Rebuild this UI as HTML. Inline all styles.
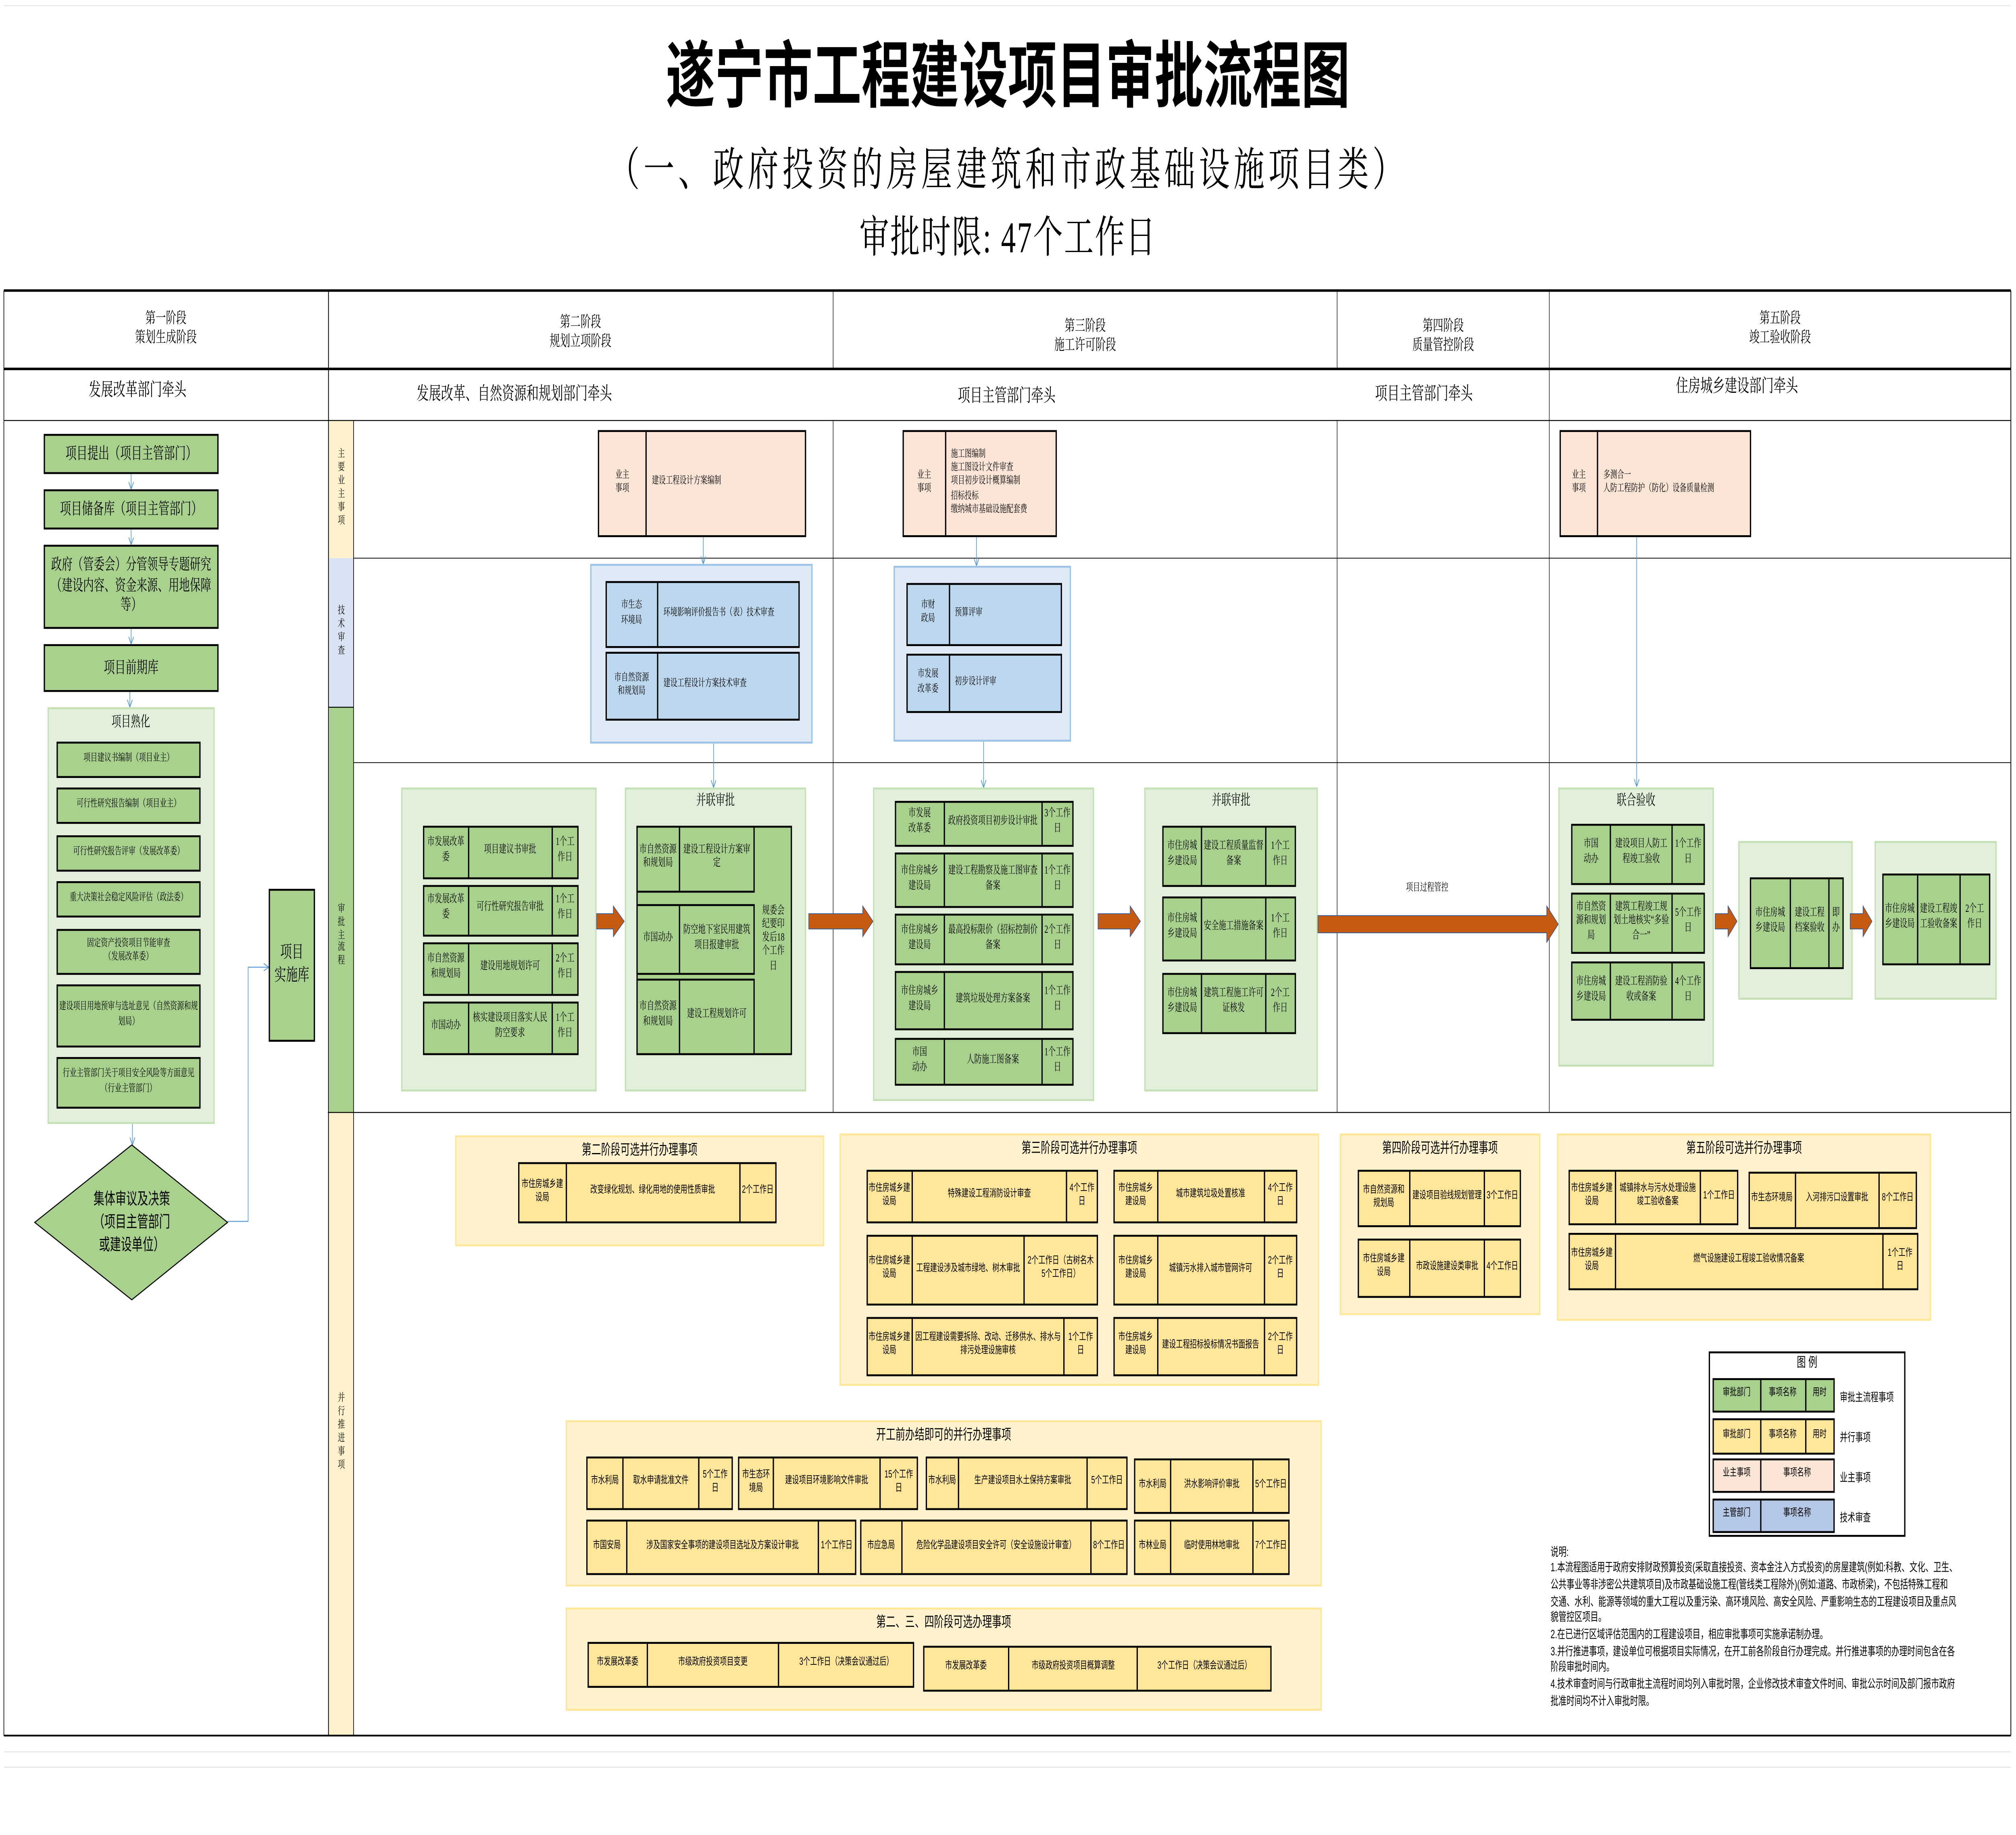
<!DOCTYPE html>
<html><head><meta charset="utf-8">
<style>
html,body{margin:0;padding:0;background:#fff;overflow:hidden;}
body{width:100%;height:100vh;position:relative;}
#w{position:absolute;left:0;top:0;width:1568px;height:960px;transform:scale(4.7398);transform-origin:0 0;font-family:"Liberation Serif","Noto Serif CJK SC",serif;color:#000;}
.a{position:absolute;}
.c{position:absolute;display:flex;align-items:center;justify-content:center;text-align:center;box-sizing:border-box;line-height:1.25;}
.b{position:absolute;display:flex;box-sizing:border-box;border:0.7px solid #000;}
.b>span{display:flex;align-items:center;justify-content:center;text-align:center;box-sizing:border-box;border-left:0.7px solid #000;height:100%;padding:0 1px;line-height:1.3;}
.b>span:first-child{border-left:none;}
.b>span:last-child{flex:1;}
.g{background:#A9D18E}.y{background:#FFE699}.p{background:#FBE5D6}.bl{background:#BDD7EE}.lb{background:#B4C7E7}
.gc{position:absolute;background:#E2EFDA;border:0.6px solid #C5E0B4;box-sizing:border-box;}
.bc{position:absolute;background:#DEEBF7;border:0.6px solid #9DC3E6;box-sizing:border-box;}
.yc{position:absolute;background:#FFF2CC;border:0.6px solid #FFE699;box-sizing:border-box;}
.f6{font-size:5.8px}.f55{font-size:5.4px}
.s{font-family:"Liberation Sans","Noto Sans CJK SC",sans-serif;}
.yb{border-width:0.9px;}
.ttl{position:absolute;text-align:center;font-family:"Liberation Sans","Noto Sans CJK SC",sans-serif;font-size:7.5px;}
.lf{justify-content:flex-start!important;text-align:left!important;padding-left:4px!important;}
</style></head><body><div id="w">

<!-- Titles -->
<div class="c" style="left:300px;top:20px;width:968px;height:44px;font-size:38px;font-weight:bold;font-family:'Liberation Sans','Noto Sans CJK SC',sans-serif;">遂宁市工程建设项目审批流程图</div>
<div class="c" style="left:300px;top:76px;width:968px;height:28px;font-size:24px;letter-spacing:3px;">（一、政府投资的房屋建筑和市政基础设施项目类）</div>
<div class="c" style="left:400px;top:111px;width:768px;height:28px;font-size:23px;letter-spacing:1px;">审批时限: 47个工作日</div>

<!-- Lane labels -->
<div class="c" style="left:256px;top:220px;width:19px;height:72px;background:#FFF2CC;font-size:5.5px;">主<br>要<br>业<br>主<br>事<br>项</div>
<div class="c" style="left:256px;top:292px;width:19px;height:78px;background:#DAE3F3;font-size:5.5px;">技<br>术<br>审<br>查</div>
<div class="c" style="left:256px;top:370px;width:19px;height:212px;background:#A9D18E;font-size:5.5px;padding-top:28px;">审<br>批<br>主<br>流<br>程</div>
<div class="c" style="left:256px;top:582px;width:19px;height:326px;background:#FFF2CC;font-size:5.5px;padding-top:10px;">并<br>行<br>推<br>进<br>事<br>项</div>

<!-- Table lines -->
<svg class="a" style="left:0;top:0" width="1568" height="960" viewBox="0 0 1568 960">
<g stroke="#000" fill="none">
<line x1="3" y1="152" x2="1564" y2="152" stroke-width="1.3"/>
<line x1="3" y1="193" x2="1564" y2="193" stroke-width="1.3"/>
<line x1="3" y1="220" x2="1564" y2="220" stroke-width="0.5"/>
<line x1="3" y1="908" x2="1564" y2="908" stroke-width="0.9"/>
<line x1="3" y1="152" x2="3" y2="908" stroke-width="0.5"/>
<line x1="1564" y1="152" x2="1564" y2="908" stroke-width="0.6"/>
<line x1="255.5" y1="152" x2="255.5" y2="908" stroke-width="0.6"/>
<line x1="275" y1="220" x2="275" y2="908" stroke-width="0.5"/>
<line x1="648" y1="152" x2="648" y2="193" stroke-width="0.4"/>
<line x1="648" y1="220" x2="648" y2="582" stroke-width="0.4"/>
<line x1="1040" y1="152" x2="1040" y2="193" stroke-width="0.4"/>
<line x1="1040" y1="220" x2="1040" y2="582" stroke-width="0.4"/>
<line x1="1205" y1="152" x2="1205" y2="582" stroke-width="0.4"/>
<line x1="275" y1="292" x2="1564" y2="292" stroke-width="0.4"/>
<line x1="275" y1="399" x2="1564" y2="399" stroke-width="0.4"/>
<line x1="255" y1="582" x2="1564" y2="582" stroke-width="0.5"/>
<line x1="255.5" y1="370" x2="275" y2="370" stroke-width="0.5"/>
</g>
<g stroke="#ddd" stroke-width="0.4">
<line x1="3" y1="916.5" x2="1564" y2="916.5"/><line x1="3" y1="924.5" x2="1564" y2="924.5"/>
<line x1="3" y1="3" x2="1564" y2="3"/>
</g>
</svg>

<!-- Header texts -->
<div class="c" style="left:3px;top:158px;width:252px;height:28px;font-size:8px;">第一阶段<br>策划生成阶段</div>
<div class="c" style="left:255px;top:160px;width:393px;height:28px;font-size:8px;">第二阶段<br>规划立项阶段</div>
<div class="c" style="left:648px;top:162px;width:392px;height:28px;font-size:8px;">第三阶段<br>施工许可阶段</div>
<div class="c" style="left:1040px;top:162px;width:165px;height:28px;font-size:8px;">第四阶段<br>质量管控阶段</div>
<div class="c" style="left:1205px;top:158px;width:359px;height:28px;font-size:8px;">第五阶段<br>竣工验收阶段</div>
<div class="c" style="left:3px;top:199px;width:208px;height:14px;font-size:9.5px;">发展改革部门牵头</div>
<div class="c" style="left:255px;top:201px;width:290px;height:14px;font-size:9.5px;">发展改革、自然资源和规划部门牵头</div>
<div class="c" style="left:648px;top:202px;width:270px;height:14px;font-size:9.5px;">项目主管部门牵头</div>
<div class="c" style="left:1040px;top:201px;width:135px;height:14px;font-size:9.5px;">项目主管部门牵头</div>
<div class="c" style="left:1205px;top:197px;width:292px;height:14px;font-size:9.5px;">住房城乡建设部门牵头</div>

<!-- Phase 1 -->
<div class="b g" style="left:34px;top:227px;width:136px;height:21px;font-size:8.5px;"><span>项目提出（项目主管部门）</span></div>
<div class="b g" style="left:34px;top:256px;width:136px;height:21px;font-size:8.5px;"><span>项目储备库（项目主管部门）</span></div>
<div class="b g" style="left:34px;top:285px;width:136px;height:44px;font-size:8.3px;"><span>政府（管委会）分管领导专题研究（建设内容、资金来源、用地保障等）</span></div>
<div class="b g" style="left:34px;top:337px;width:136px;height:25px;font-size:8.5px;"><span>项目前期库</span></div>
<div class="gc" style="left:36.5px;top:370px;width:130.5px;height:218px;"></div>
<div class="c" style="left:36.5px;top:372px;width:130.5px;height:11px;font-size:7.5px;">项目熟化</div>
<div class="b g f55" style="left:44px;top:388px;width:112px;height:19px;"><span>项目建议书编制（项目业主）</span></div>
<div class="b g f55" style="left:44px;top:412px;width:112px;height:19px;"><span>可行性研究报告编制（项目业主）</span></div>
<div class="b g f55" style="left:44px;top:437px;width:112px;height:19px;"><span>可行性研究报告评审（发展改革委）</span></div>
<div class="b g f55" style="left:44px;top:461px;width:112px;height:19px;"><span>重大决策社会稳定风险评估（政法委）</span></div>
<div class="b g f55" style="left:44px;top:486px;width:112px;height:24px;"><span>固定资产投资项目节能审查<br>（发展改革委）</span></div>
<div class="b g f55" style="left:44px;top:515px;width:112px;height:33px;"><span>建设项目用地预审与选址意见（自然资源和规划局）</span></div>
<div class="b g f55" style="left:44px;top:553px;width:112px;height:27px;"><span>行业主管部门关于项目安全风险等方面意见（行业主管部门）</span></div>
<div class="b g" style="left:209px;top:465px;width:36px;height:80px;font-size:9px;"><span>项目<br>实施库</span></div>

<!-- Phase 2 -->
<div class="b p f55" style="left:465px;top:225px;width:162px;height:56px;"><span style="width:36px">业主<br>事项</span><span class="lf">建设工程设计方案编制</span></div>
<div class="bc" style="left:459px;top:295px;width:173px;height:94px;"></div>
<div class="b bl f55" style="left:470.5px;top:304px;width:151.5px;height:35px;"><span style="width:39.5px">市生态<br>环境局</span><span class="lf">环境影响评价报告书（表）技术审查</span></div>
<div class="b bl f55" style="left:470.5px;top:341px;width:151.5px;height:36px;"><span style="width:39.5px">市自然资源<br>和规划局</span><span class="lf">建设工程设计方案技术审查</span></div>
<div class="gc" style="left:312px;top:412px;width:152px;height:159px;"></div>
<div class="b g f6" style="left:329px;top:432px;width:121px;height:28px;"><span style="width:33.5px">市发展改革委</span><span style="width:65.5px">项目建议书审批</span><span>1个工作日</span></div>
<div class="b g f6" style="left:329px;top:462.5px;width:121px;height:27px;"><span style="width:33.5px">市发展改革委</span><span style="width:65.5px">可行性研究报告审批</span><span>1个工作日</span></div>
<div class="b g f6" style="left:329px;top:492.6px;width:121px;height:28.4px;"><span style="width:33.5px">市自然资源和规划局</span><span style="width:65.5px">建设用地规划许可</span><span>2个工作日</span></div>
<div class="b g f6" style="left:329px;top:524px;width:121px;height:27.5px;"><span style="width:33.5px">市国动办</span><span style="width:65.5px">核实建设项目落实人民防空要求</span><span>1个工作日</span></div>
<div class="gc" style="left:486px;top:412px;width:141px;height:159px;"></div>
<div class="c" style="left:486px;top:413px;width:141px;height:12px;font-size:7.5px;">并联审批</div>
<div class="b g f6" style="left:494.5px;top:432px;width:121.5px;height:119.5px;"></div>
<div class="b g f6" style="left:494.5px;top:432px;width:92.5px;height:34.6px;"><span style="width:32.5px">市自然资源和规划局</span><span>建设工程设计方案审定</span></div>
<div class="b g f6" style="left:494.5px;top:473px;width:92.5px;height:37px;"><span style="width:32.5px">市国动办</span><span>防空地下室民用建筑项目报建审批</span></div>
<div class="b g f6" style="left:494.5px;top:511.6px;width:92.5px;height:40px;"><span style="width:32.5px">市自然资源和规划局</span><span>建设工程规划许可</span></div>
<div class="c f6" style="left:587px;top:432px;width:29px;height:119.5px;padding:0 3px;">规委会纪要印发后18个工作日</div>

<!-- Phase 3 -->
<div class="b p f55" style="left:702px;top:225px;width:120px;height:56px;"><span style="width:31.6px">业主<br>事项</span><span class="lf">施工图编制<br>施工图设计文件审查<br>项目初步设计概算编制<br>招标投标<br>缴纳城市基础设施配套费</span></div>
<div class="bc" style="left:695px;top:296px;width:138px;height:92px;"></div>
<div class="b bl f55" style="left:705px;top:305px;width:120.6px;height:32.6px;"><span style="width:31.6px">市财<br>政局</span><span class="lf">预算评审</span></div>
<div class="b bl f55" style="left:705px;top:342px;width:120.6px;height:31px;"><span style="width:31.6px">市发展<br>改革委</span><span class="lf">初步设计评审</span></div>
<div class="gc" style="left:679px;top:412px;width:172px;height:164px;"></div>
<div class="b g f6" style="left:696px;top:419px;width:139px;height:24px;"><span style="width:36.5px">市发展<br>改革委</span><span style="width:76.5px">政府投资项目初步设计审批</span><span>3个工作日</span></div>
<div class="b g f6" style="left:696px;top:446.4px;width:139px;height:28.3px;"><span style="width:36.5px">市住房城乡建设局</span><span style="width:76.5px">建设工程勘察及施工图审查备案</span><span>1个工作日</span></div>
<div class="b g f6" style="left:696px;top:478px;width:139px;height:27px;"><span style="width:36.5px">市住房城乡建设局</span><span style="width:76.5px">最高投标限价（招标控制价备案</span><span>2个工作日</span></div>
<div class="b g f6" style="left:696px;top:508px;width:139px;height:31px;"><span style="width:36.5px">市住房城乡建设局</span><span style="width:76.5px">建筑垃圾处理方案备案</span><span>1个工作日</span></div>
<div class="b g f6" style="left:696px;top:543px;width:139px;height:25px;"><span style="width:36.5px">市国<br>动办</span><span style="width:76.5px">人防施工图备案</span><span>1个工作日</span></div>
<div class="gc" style="left:890px;top:412px;width:135px;height:159px;"></div>
<div class="c" style="left:890px;top:413px;width:135px;height:12px;font-size:7.5px;">并联审批</div>
<div class="b g f6" style="left:904px;top:431.5px;width:103.5px;height:32.5px;"><span style="width:29px">市住房城乡建设局</span><span style="width:50px">建设工程质量监督备案</span><span>1个工作日</span></div>
<div class="b g f6" style="left:904px;top:469px;width:103.5px;height:34px;"><span style="width:29px">市住房城乡建设局</span><span style="width:50px">安全施工措施备案</span><span>1个工作日</span></div>
<div class="b g f6" style="left:904px;top:508.5px;width:103.5px;height:32.5px;"><span style="width:29px">市住房城乡建设局</span><span style="width:50px">建筑工程施工许可证核发</span><span>2个工作日</span></div>
<div class="c" style="left:1070px;top:461px;width:80px;height:9px;font-size:5.5px;">项目过程管控</div>

<!-- Phase 5 -->
<div class="b p f55" style="left:1213px;top:225px;width:149px;height:56px;"><span style="width:28px">业主<br>事项</span><span class="lf">多测合一<br>人防工程防护（防化）设备质量检测</span></div>
<div class="gc" style="left:1212px;top:411.5px;width:121px;height:146.5px;"></div>
<div class="c" style="left:1212px;top:413px;width:121px;height:12px;font-size:7.5px;">联合验收</div>
<div class="b g f6" style="left:1222px;top:431px;width:104px;height:32px;"><span style="width:29px">市国<br>动办</span><span style="width:48px">建设项目人防工程竣工验收</span><span>1个工作日</span></div>
<div class="b g f6" style="left:1222px;top:467px;width:104px;height:32px;"><span style="width:29px">市自然资源和规划局</span><span style="width:48px">建筑工程竣工规划土地核实“多验合一”</span><span>5个工作日</span></div>
<div class="b g f6" style="left:1222px;top:503px;width:104px;height:31px;"><span style="width:29px">市住房城乡建设局</span><span style="width:48px">建设工程消防验收或备案</span><span>4个工作日</span></div>
<div class="gc" style="left:1352px;top:439.5px;width:89px;height:83.5px;"></div>
<div class="b g f6" style="left:1360.6px;top:458.5px;width:73.4px;height:48px;"><span style="width:30.4px">市住房城乡建设局</span><span style="width:30px">建设工程档案验收</span><span>即办</span></div>
<div class="gc" style="left:1457.5px;top:440px;width:95.5px;height:83px;"></div>
<div class="b g f6" style="left:1463.6px;top:457px;width:84.2px;height:48px;"><span style="width:26px">市住房城乡建设局</span><span style="width:33.4px">建设工程竣工验收备案</span><span>2个工作日</span></div>

<!-- Arrows / connectors -->
<svg class="a" style="left:0;top:0" width="1568" height="960" viewBox="0 0 1568 960">
<defs><marker id="m" viewBox="0 0 6 6" refX="6" refY="3" markerWidth="4" markerHeight="4" orient="auto" markerUnits="userSpaceOnUse"><path d="M0,0 L6,3 L0,6" fill="none" stroke="#5B9BD5" stroke-width="0.8"/></marker></defs>
<g stroke="#5B9BD5" stroke-width="0.5" fill="none" marker-end="url(#m)">
<line x1="102" y1="248" x2="102" y2="256"/>
<line x1="102" y1="277" x2="102" y2="285"/>
<line x1="102" y1="329" x2="102" y2="337"/>
<line x1="101" y1="362" x2="101" y2="370"/>
<line x1="103" y1="588" x2="103" y2="599"/>
<polyline points="177,639 193,639 193,506 209,506"/>
<line x1="547" y1="281" x2="547" y2="295"/>
<line x1="555" y1="389" x2="555" y2="412"/>
<line x1="759.5" y1="281" x2="759.5" y2="296"/>
<line x1="765" y1="388" x2="765" y2="412"/>
<line x1="1273" y1="281" x2="1273" y2="411.5"/>
</g>
<polygon points="27,639.5 102.5,599 177,639.5 102.5,680" fill="#A9D18E" stroke="#000" stroke-width="0.6"/>
<g fill="#C55A11" stroke="#2F5597" stroke-width="0.4">
<polygon points="464,478 477,478 477,474 485.5,482 477,490 477,486 464,486"/>
<polygon points="629,478 671,478 671,474 679,482 671,490 671,486 629,486"/>
<polygon points="854,478 879,478 879,474 887,482 879,490 879,486 854,486"/>
<polygon points="1025,479 1203,479 1203,474 1212,483.5 1203,493 1203,488 1025,488"/>
<polygon points="1334,478 1344,478 1344,474 1351,482 1344,490 1344,486 1334,486"/>
<polygon points="1439,478 1449,478 1449,474 1456,482 1449,490 1449,486 1439,486"/>
</g>
</svg>
<div class="c s" style="left:27px;top:615px;width:151px;height:48px;font-size:8.5px;line-height:1.45;">集体审议及决策<br>（项目主管部门<br>或建设单位）</div>

<!-- Parallel items -->
<div class="s">
<div class="yc" style="left:354px;top:593.5px;width:287px;height:58.5px;"></div>
<div class="ttl" style="left:354px;top:595.5px;width:287px;">第二阶段可选并行办理事项</div>
<div class="b y yb f55" style="left:403px;top:608px;width:201px;height:32px;"><span style="width:35.6px">市住房城乡建设局</span><span style="width:135.1px">改变绿化规划、绿化用地的使用性质审批</span><span>2个工作日</span></div>

<div class="yc" style="left:653px;top:592.6px;width:373px;height:132px;"></div>
<div class="ttl" style="left:653px;top:594.6px;width:373px;">第三阶段可选并行办理事项</div>
<div class="b y yb f55" style="left:673.5px;top:612px;width:180.5px;height:28px;"><span style="width:34.5px">市住房城乡建设局</span><span style="width:120px">特殊建设工程消防设计审查</span><span>4个工作日</span></div>
<div class="b y yb f55" style="left:673.5px;top:645.6px;width:180.5px;height:37.4px;"><span style="width:34.5px">市住房城乡建设局</span><span style="width:87px">工程建设涉及城市绿地、树木审批</span><span>2个工作日（古树名木5个工作日）</span></div>
<div class="b y yb f55" style="left:673.5px;top:688.6px;width:180.5px;height:31px;"><span style="width:34.5px">市住房城乡建设局</span><span style="width:118px">因工程建设需要拆除、改动、迁移供水、排水与排污处理设施审核</span><span>1个工作日</span></div>
<div class="b y yb f55" style="left:866px;top:612px;width:143px;height:28px;"><span style="width:32.6px">市住房城乡建设局</span><span style="width:83px">城市建筑垃圾处置核准</span><span>4个工作日</span></div>
<div class="b y yb f55" style="left:866px;top:645.6px;width:143px;height:37.4px;"><span style="width:32.6px">市住房城乡建设局</span><span style="width:83px">城镇污水排入城市管网许可</span><span>2个工作日</span></div>
<div class="b y yb f55" style="left:866px;top:688.6px;width:143px;height:31px;"><span style="width:32.6px">市住房城乡建设局</span><span style="width:83px">建设工程招标投标情况书面报告</span><span>2个工作日</span></div>

<div class="yc" style="left:1042px;top:592.6px;width:156px;height:95.4px;"></div>
<div class="ttl" style="left:1042px;top:594.6px;width:156px;">第四阶段可选并行办理事项</div>
<div class="b y yb f55" style="left:1055.5px;top:611.6px;width:127.5px;height:30.4px;"><span style="width:39.5px">市自然资源和规划局</span><span style="width:58px">建设项目验线规划管理</span><span>3个工作日</span></div>
<div class="b y yb f55" style="left:1055.5px;top:648px;width:127.5px;height:30.6px;"><span style="width:39.5px">市住房城乡建设局</span><span style="width:58px">市政设施建设类审批</span><span>4个工作日</span></div>

<div class="yc" style="left:1211px;top:593px;width:291px;height:98px;"></div>
<div class="ttl" style="left:1211px;top:595px;width:291px;">第五阶段可选并行办理事项</div>
<div class="b y yb f55" style="left:1219.5px;top:611.6px;width:132.5px;height:29.4px;"><span style="width:35.2px">市住房城乡建设局</span><span style="width:66.3px">城镇排水与污水处理设施竣工验收备案</span><span>1个工作日</span></div>
<div class="b y yb f55" style="left:1359.6px;top:612.5px;width:131.4px;height:30px;"><span style="width:35px">市生态环境局</span><span style="width:65.4px">入河排污口设置审批</span><span>8个工作日</span></div>
<div class="b y yb f55" style="left:1219.5px;top:645px;width:272.5px;height:30px;"><span style="width:35.2px">市住房城乡建设局</span><span style="width:207.9px">燃气设施建设工程竣工验收情况备案</span><span>1个工作日</span></div>

<div class="yc" style="left:440px;top:742.6px;width:588px;height:87.4px;"></div>
<div class="ttl" style="left:440px;top:744.6px;width:588px;">开工前办结即可的并行办理事项</div>
<div class="b y yb f55" style="left:456px;top:761.5px;width:113.5px;height:28.5px;"><span style="width:27px">市水利局</span><span style="width:59px">取水申请批准文件</span><span>5个工作日</span></div>
<div class="b y yb f55" style="left:574px;top:761.5px;width:140px;height:28.5px;"><span style="width:26px">市生态环境局</span><span style="width:83px">建设项目环境影响文件审批</span><span>15个工作日</span></div>
<div class="b y yb f55" style="left:719.5px;top:761.5px;width:157.5px;height:28.5px;"><span style="width:24.5px">市水利局</span><span style="width:100px">生产建设项目水土保持方案审批</span><span>5个工作日</span></div>
<div class="b y yb f55" style="left:882px;top:763px;width:121px;height:29px;"><span style="width:27px">市水利局</span><span style="width:64px">洪水影响评价审批</span><span>5个工作日</span></div>
<div class="b y yb f55" style="left:456px;top:795.4px;width:209.5px;height:28.3px;"><span style="width:30px">市国安局</span><span style="width:149px">涉及国家安全事项的建设项目选址及方案设计审批</span><span>1个工作日</span></div>
<div class="b y yb f55" style="left:669px;top:795.4px;width:208px;height:28.3px;"><span style="width:30.5px">市应急局</span><span style="width:147.5px">危险化学品建设项目安全许可（安全设施设计审查）</span><span>8个工作日</span></div>
<div class="b y yb f55" style="left:882px;top:795.4px;width:121px;height:28.3px;"><span style="width:27px">市林业局</span><span style="width:64px">临时使用林地审批</span><span>7个工作日</span></div>

<div class="yc" style="left:440px;top:841px;width:588px;height:54px;"></div>
<div class="ttl" style="left:440px;top:842.6px;width:588px;">第二、三、四阶段可选办理事项</div>
<div class="b y yb f55" style="left:456.7px;top:859px;width:254.8px;height:24px;"><span style="width:45.3px">市发展改革委</span><span style="width:102px">市级政府投资项目变更</span><span>3个工作日（决策会议通过后）</span></div>
<div class="b y yb f55" style="left:717.6px;top:861px;width:271.4px;height:24px;"><span style="width:65.4px">市发展改革委</span><span style="width:100.5px">市级政府投资项目概算调整</span><span>3个工作日（决策会议通过后）</span></div>

<!-- Legend -->
<div class="a" style="left:1329px;top:706.6px;width:153px;height:97px;border:0.5px solid #000;box-sizing:border-box;background:#fff;"></div>
<div class="c" style="left:1329px;top:709px;width:153px;height:10px;font-size:7px;">图 例</div>
<div class="b g f55" style="left:1332px;top:721px;width:95px;height:18px;"><span style="width:35.5px">审批部门</span><span style="width:35px">事项名称</span><span>用时</span></div>
<div class="b y f55" style="left:1332px;top:741.6px;width:95px;height:19px;"><span style="width:35.5px">审批部门</span><span style="width:35px">事项名称</span><span>用时</span></div>
<div class="b p f55" style="left:1332px;top:763px;width:95px;height:18px;"><span style="width:35.5px">业主事项</span><span>事项名称</span></div>
<div class="b lb f55" style="left:1332px;top:784px;width:95px;height:18px;"><span style="width:35.5px">主管部门</span><span>事项名称</span></div>
<div class="a" style="left:1431px;top:726px;font-size:6px;">审批主流程事项</div>
<div class="a" style="left:1431px;top:747px;font-size:6px;">并行事项</div>
<div class="a" style="left:1431px;top:768px;font-size:6px;">业主事项</div>
<div class="a" style="left:1431px;top:789px;font-size:6px;">技术审查</div>

<!-- Notes -->
<div class="a" style="left:1206px;top:808.5px;width:358px;font-size:6.2px;line-height:8.7px;white-space:nowrap;">说明:<br>1.本流程图适用于政府安排财政预算投资(采取直接投资、资本金注入方式投资)的房屋建筑(例如:科教、文化、卫生、<br>公共事业等非涉密公共建筑项目)及市政基础设施工程(管线类工程除外)(例如:道路、市政桥梁)，不包括特殊工程和<br>交通、水利、能源等领域的重大工程以及重污染、高环境风险、高安全风险、严重影响生态的工程建设项目及重点风<br>貌管控区项目。<br>2.在已进行区域评估范围内的工程建设项目，相应审批事项可实施承诺制办理。<br>3.并行推进事项，建设单位可根据项目实际情况，在开工前各阶段自行办理完成。并行推进事项的办理时间包含在各<br>阶段审批时间内。<br>4.技术审查时间与行政审批主流程时间均列入审批时限，企业修改技术审查文件时间、审批公示时间及部门报市政府<br>批准时间均不计入审批时限。</div>
</div>

</div>
<script>
(function(){
  var w = window.innerWidth || document.documentElement.clientWidth;
  var h = window.innerHeight || document.documentElement.clientHeight;
  if (w && w > 300) {
    var sx = w / 1568;
    var sy = (h && h > 300) ? h / 960 : sx;
    document.getElementById('w').style.transform = 'scale(' + sx + ',' + sy + ')';
  }
})();
</script>
</body></html>
